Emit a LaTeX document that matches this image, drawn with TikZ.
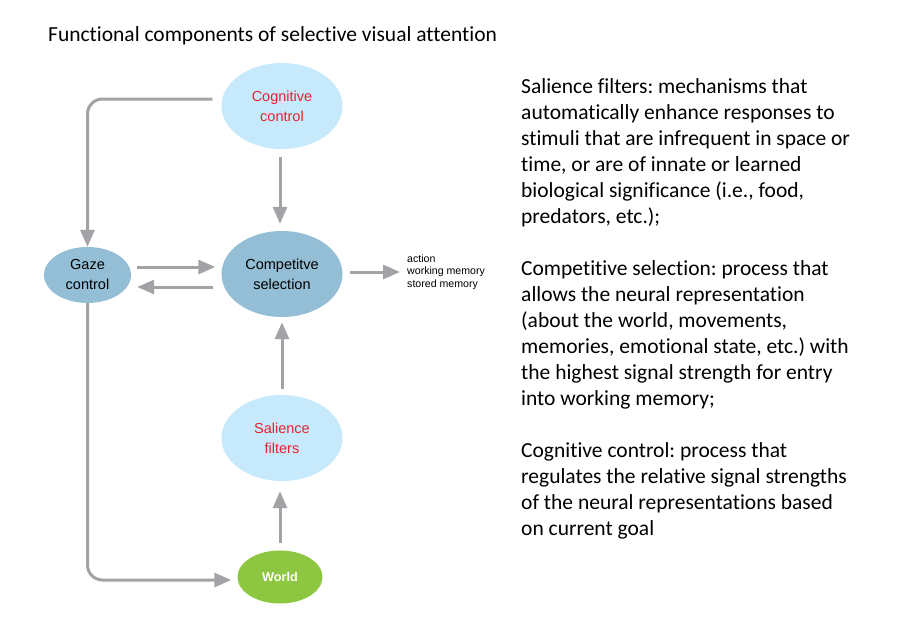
\documentclass[tikz,border=0pt]{standalone}
\usepackage{fontspec}
\setmainfont{Carlito}[Ligatures={NoCommon}]
\newfontfamily\arialf{Liberation Sans}
\usetikzlibrary{shapes.geometric,arrows.meta}
\frenchspacing
\definecolor{lightblue}{HTML}{C6E9FB}
\definecolor{midblue}{HTML}{94BED5}
\definecolor{worldgreen}{HTML}{8DC641}
\definecolor{arrowgray}{HTML}{A2A3A7}
\definecolor{labelred}{HTML}{E52330}
\tikzset{
  bigell/.style={ellipse, inner sep=0pt, minimum width=121pt, minimum height=86pt, align=center,
    font=\arialf\fontsize{14.5}{20}\selectfont},
  lightell/.style={bigell, fill=lightblue, text=labelred},
  midell/.style={bigell, fill=midblue, text=black},
  arr/.style={draw=arrowgray, line width=3pt, -{Triangle[length=17pt,width=14pt]}},
  para/.style={anchor=base west, inner sep=0pt, align=left, font=\fontsize{21.5}{26}\selectfont},
}
\begin{document}
\begin{tikzpicture}[x=1pt,y=-1pt]
\useasboundingbox[fill=white] (0,0) rectangle (922,632);
% title
\node[anchor=base west, inner sep=0pt, font=\fontsize{21.5}{26}\selectfont] (title) at (48,41)
  {Functional components of selective visual attention};
% nodes
\node[lightell] (cog) at (282,106) {Cognitive\\control};
\node[midell] (comp) at (282,274) {Competitve\\selection};
\node[lightell] (sal) at (282,438) {Salience\\filters};
\node[midell, minimum width=87pt, minimum height=56pt] (gaze) at (87.5,275) {Gaze\\control};
\node[ellipse, inner sep=0pt, minimum width=85pt, minimum height=53pt, fill=worldgreen, text=white,
  font=\arialf\bfseries\fontsize{12.7}{15}\selectfont] (world) at (280,577) {World};
\node[anchor=west, inner sep=0pt, align=left, font=\arialf\fontsize{10.6}{12.5}\selectfont] (out) at (407,272)
  {action\\working memory\\stored memory};
% connectors
\draw[arr, rounded corners=15pt] ([xshift=-9pt,yshift=7pt]cog.west) -| (gaze.north);
\draw[arr, shorten <=8pt, shorten >=7pt] ([xshift=-2pt]cog.south) -- ([xshift=-2pt]comp.north);
\draw[arr] ([xshift=6pt,yshift=8pt]gaze.east) -- ([xshift=-6pt,yshift=7pt]comp.west);
\draw[arr] ([xshift=-8pt,yshift=-13pt]comp.west) -- ([xshift=6pt,yshift=-12pt]gaze.east);
\draw[arr] ([xshift=7pt,yshift=2pt]comp.east) -- ([xshift=-7pt]out.west);
\draw[arr, shorten <=6pt, shorten >=5pt] (sal.north) -- (comp.south);
\draw[arr, shorten <=7pt, shorten >=10pt] (world.north) -- ([xshift=-2pt]sal.south);
\draw[arr, rounded corners=15pt] (gaze.south) |- ([xshift=-6pt,yshift=-3pt]world.west);
% descriptions (anchored at the baseline of the last line)
\node[para] (p1) at (521,223) {Salience filters: mechanisms that\\automatically enhance responses to\\stimuli that are infrequent in space or\\time, or are of innate or learned\\biological significance (i.e., food,\\predators, etc.);};
\node[para] (p2) at (521,405) {Competitive selection: process that\\allows the neural representation\\(about the world, movements,\\memories, emotional state, etc.) with\\the highest signal strength for entry\\into working memory;};
\node[para] (p3) at (521,535) {Cognitive control: process that\\regulates the relative signal strengths\\of the neural representations based\\on current goal};
\end{tikzpicture}
\end{document}
